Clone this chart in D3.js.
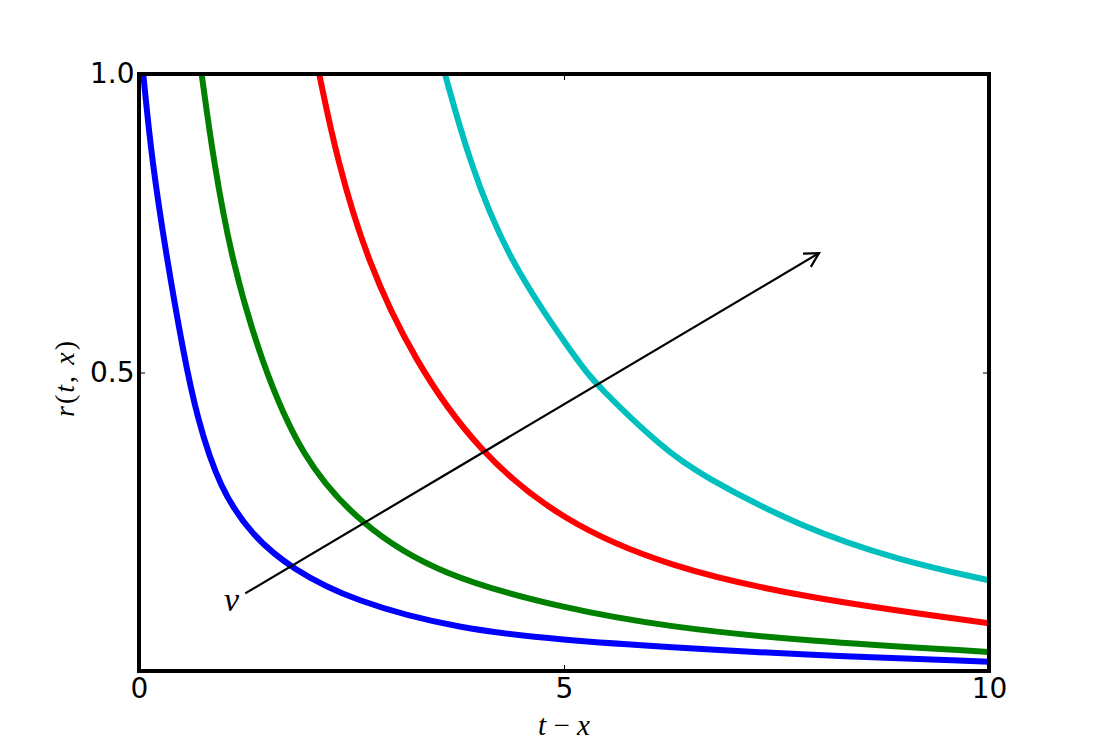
<!DOCTYPE html>
<html><head><meta charset="utf-8">
<script src="https://cdn.jsdelivr.net/npm/d3@7"></script>
<style>body{margin:0;background:#fff}svg{display:block}</style>
</head><body><svg id="c" width="1100" height="747"></svg>
<script>
// ---- data ----
const seriesNames = ["blue", "green", "red", "cyan"];
const seriesColors = ["#0000ff", "#008000", "#ff0000", "#00bfbf"];
const blueX  = [0.05, 0.15, 0.33, 0.52, 0.68, 0.95, 1.34, 1.80, 2.52, 3.78, 4.99, 6.21, 7.83, 10];
const blueY  = [1.0, 0.856, 0.688, 0.535, 0.425, 0.305, 0.225, 0.171, 0.117, 0.0695, 0.052, 0.040, 0.027, 0.0156];
const greenX = [0.737, 0.875, 1.09, 1.43, 1.91, 2.60, 3.54, 4.99, 6.21, 7.83, 10];
const greenY = [1.0, 0.856, 0.688, 0.521, 0.357, 0.245, 0.160, 0.105, 0.074, 0.050, 0.032];
const redX   = [2.12, 2.33, 2.68, 3.23, 4.00, 4.99, 6.21, 7.83, 10];
const redY   = [1.0, 0.856, 0.688, 0.521, 0.365, 0.250, 0.175, 0.122, 0.080];
const cyanX  = [3.60, 3.88, 4.34, 5.15, 5.38, 6.17, 6.60, 7.78, 8.95, 10];
const cyanY  = [1.0, 0.856, 0.688, 0.521, 0.479, 0.372, 0.329, 0.241, 0.185, 0.152];
const xTicks = [0, 5, 10];
const yTicks = [0.5, 1.0];
const xTickLabels = ["0", "5", "10"];
const yTickLabels = ["0.5", "1.0"];
const arrowFrom = [1.25, 0.13];
const arrowTo = [8.0, 0.70];
const nuPos = [1.0, 0.1];

const seriesX = [blueX, greenX, redX, cyanX];
const seriesY = [blueY, greenY, redY, cyanY];

// ---- layout ----
const L = 139, R = 989, T = 74, B = 671;
const svg = d3.select("#c");
svg.append("rect").attr("width", 1100).attr("height", 747).attr("fill", "#fff");
const x = d3.scaleLinear().domain([0, 10]).range([L, R]);
const y = d3.scaleLinear().domain([0, 1]).range([B, T]);

svg.append("clipPath").attr("id", "clip").append("rect")
  .attr("x", L).attr("y", T).attr("width", R - L).attr("height", B - T);

const line = d3.line().x(d => x(d[0])).y(d => y(d[1])).curve(d3.curveBasis);
const g = svg.append("g").attr("clip-path", "url(#clip)");
seriesNames.forEach((n, i) => {
  const pts = seriesX[i].map((v, j) => [v, seriesY[i][j]]);
  g.append("path").datum(pts).attr("d", line)
    .attr("fill", "none").attr("stroke", seriesColors[i])
    .attr("stroke-width", 6).attr("stroke-linejoin", "round");
});

// arrow annotation
const ax0 = x(arrowFrom[0]), ay0 = y(arrowFrom[1]), ax1 = x(arrowTo[0]), ay1 = y(arrowTo[1]);
svg.append("line").attr("x1", ax0).attr("y1", ay0).attr("x2", ax1).attr("y2", ay1)
  .attr("stroke", "#000").attr("stroke-width", 2.2);
const ang = Math.atan2(ay1 - ay0, ax1 - ax0), hl = 16, ha = 0.5;
const hp = [[ax1 - hl * Math.cos(ang - ha), ay1 - hl * Math.sin(ang - ha)], [ax1, ay1],
            [ax1 - hl * Math.cos(ang + ha), ay1 - hl * Math.sin(ang + ha)]];
svg.append("path").attr("d", d3.line()(hp)).attr("fill", "none")
  .attr("stroke", "#000").attr("stroke-width", 2.2).attr("stroke-linejoin", "miter");
svg.append("text").attr("x", x(nuPos[0])).attr("y", y(nuPos[1]))
  .attr("font-family", "Liberation Serif").attr("font-style", "italic")
  .attr("font-size", 34).attr("fill", "#000").text("ν");

// axes (ticks inward)
const tickFont = "DejaVu Sans";
function styleAxis(sel, showLabels) {
  sel.select(".domain").remove();
  sel.selectAll(".tick line").attr("stroke", "#000").attr("stroke-width", 1);
  sel.selectAll("text").attr("font-family", tickFont).attr("font-size", 28).attr("fill", "#000");
  if (!showLabels) sel.selectAll("text").remove();
}
const xb = svg.append("g").attr("transform", `translate(0,${B})`)
  .call(d3.axisBottom(x).tickValues(xTicks).tickFormat((d, i) => xTickLabels[i]).tickSize(-6).tickPadding(7));
styleAxis(xb, true);
const xt = svg.append("g").attr("transform", `translate(0,${T})`)
  .call(d3.axisTop(x).tickValues(xTicks).tickSize(-6));
styleAxis(xt, false);
const yl = svg.append("g").attr("transform", `translate(${L},0)`)
  .call(d3.axisLeft(y).tickValues(yTicks).tickFormat((d, i) => yTickLabels[i]).tickSize(-6).tickPadding(4.5));
styleAxis(yl, true);
const yr = svg.append("g").attr("transform", `translate(${R},0)`)
  .call(d3.axisRight(y).tickValues(yTicks).tickSize(-6));
styleAxis(yr, false);

// frame
svg.append("rect").attr("x", L).attr("y", T).attr("width", R - L).attr("height", B - T)
  .attr("fill", "none").attr("stroke", "#000").attr("stroke-width", 4);

// axis labels (math style)
const xl = svg.append("text").attr("x", 564).attr("y", 735).attr("text-anchor", "middle")
  .attr("font-family", "Liberation Serif").attr("font-size", 29).attr("fill", "#000");
xl.append("tspan").attr("font-style", "italic").text("t");
xl.append("tspan").text(" \u2212 ");
xl.append("tspan").attr("font-style", "italic").text("x");

const ylab = svg.append("text").attr("transform", "translate(74,379) rotate(-90)")
  .attr("text-anchor", "middle").attr("textLength", 76).attr("lengthAdjust", "spacing")
  .attr("font-family", "Liberation Serif").attr("font-size", 28).attr("fill", "#000");
ylab.append("tspan").attr("font-style", "italic").text("r");
ylab.append("tspan").text("(");
ylab.append("tspan").attr("font-style", "italic").text("t");
ylab.append("tspan").text(", ");
ylab.append("tspan").attr("font-style", "italic").text("x");
ylab.append("tspan").text(")");
</script></body></html>
